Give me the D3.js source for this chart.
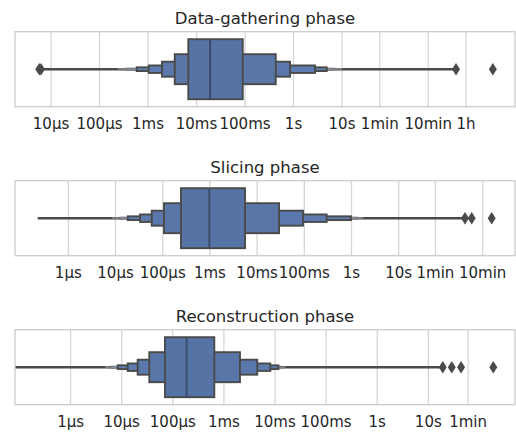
<!DOCTYPE html>
<html>
<head>
<meta charset="utf-8">
<script src="https://cdn.jsdelivr.net/npm/d3@7"></script>
<style>
  body { margin: 0; background: #fff; }
  text { font-family: "DejaVu Sans", sans-serif; fill: #262626; }
</style>
</head>
<body>
<svg id="chart" width="516" height="434"></svg>
<script>
// values are durations in seconds

var titles = ["Data-gathering phase", "Slicing phase", "Reconstruction phase"];

var domains = [
    [1.85e-6, 37760],
    [7.6e-8, 2985],
    [8.36e-8, 508]
];

var tickValues = [
    [1e-5, 1e-4, 1e-3, 1e-2, 1e-1, 1, 10, 60, 600, 3600],
    [1e-6, 1e-5, 1e-4, 1e-3, 1e-2, 1e-1, 1, 10, 60, 600],
    [1e-6, 1e-5, 1e-4, 1e-3, 1e-2, 1e-1, 1, 10, 60]
];
var tickLabels = [
    ["10µs", "100µs", "1ms", "10ms", "100ms", "1s", "10s", "1min", "10min", "1h"],
    ["1µs", "10µs", "100µs", "1ms", "10ms", "100ms", "1s", "10s", "1min", "10min"],
    ["1µs", "10µs", "100µs", "1ms", "10ms", "100ms", "1s", "10s", "1min"]
];

var medians = [0.0195, 0.000995, 0.000191];

// letter-value boxes, innermost first: [low, high]
var boxesGathering = [
    [0.00693, 0.0918], [0.00364, 0.440], [0.00199, 0.867], [0.00106, 2.84],
    [0.000598, 4.95], [0.000355, 7.08], [0.000251, 10]
];
var boxesSlicing = [
    [2.50e-4, 5.68e-3], [1.09e-4, 0.0299], [6.0e-5, 0.0962], [3.39e-5, 0.305],
    [1.86e-5, 1.0], [1.26e-5, 1.35], [8.9e-6, 1.78]
];
var boxesReconstruction = [
    [7.19e-5, 6.64e-4], [3.55e-5, 2.11e-3], [2.10e-5, 4.60e-3], [1.34e-5, 8.28e-3],
    [8.55e-6, 0.0119], [6.3e-6, 0.0135], [5.0e-6, 0.0158]
];
var allBoxes = [boxesGathering, boxesSlicing, boxesReconstruction];

// full extent of the thinnest boxes (drawn as a line)
var extents = [
    [6.08e-6, 2296],
    [2.3e-7, 260],
    [1e-8, 19.6]
];

var outliers = [
    [5.85e-6, 6.35e-6, 2296, 13183],
    [260, 361, 957],
    [19.6, 29.4, 44.7, 191]
];

var svg = d3.select("#chart");

const margin = { left: 15, right: 1 };
const width = 516;
const panelTop = 31.7, panelStep = 149, panelHeight = 75;
const Innerwidth = width - margin.left - margin.right;

var fillScale = d3.scaleLinear()
    .domain([0, 4, 6])
    .range(["#5573a4", "#5f7db1", "#aab7cc"]);

function Panel(i) {
    var top = panelTop + i * panelStep;
    var cy = top + panelHeight / 2;

    var xScale = d3.scaleLog()
        .domain(domains[i])
        .range([margin.left, margin.left + Innerwidth]);

    var g = svg.append("g");

    g.append("clipPath")
        .attr("id", "clip" + i)
        .append("rect")
        .attr("x", margin.left)
        .attr("y", top)
        .attr("width", Innerwidth)
        .attr("height", panelHeight);

    // x axis with gridlines
    var xAxis = g.append("g")
        .attr("transform", `translate(0,${top + panelHeight})`)
        .call(d3.axisBottom(xScale)
            .tickValues(tickValues[i])
            .tickFormat(function (d, j) { return tickLabels[i][j]; })
            .tickSize(-panelHeight)
            .tickPadding(12));
    xAxis.select(".domain").remove();
    xAxis.selectAll(".tick line")
        .attr("stroke", "#d6d6d6")
        .attr("stroke-width", 1.3);
    xAxis.selectAll(".tick text")
        .attr("fill", "#262626")
        .style("font-size", "15px")
        .style("font-family", "DejaVu Sans, sans-serif");

    // title
    g.append("text")
        .attr("x", margin.left + Innerwidth / 2)
        .attr("y", top - 8)
        .attr("text-anchor", "middle")
        .style("font-size", "16.5px")
        .text(titles[i]);

    var plot = g.append("g").attr("clip-path", `url(#clip${i})`);

    // thin tail line
    plot.append("line")
        .attr("x1", xScale(extents[i][0]))
        .attr("x2", xScale(extents[i][1]))
        .attr("y1", cy)
        .attr("y2", cy)
        .attr("stroke", "#4a4a4a")
        .attr("stroke-width", 2.6);

    // boxes, outermost drawn first
    var boxes = allBoxes[i].map(function (b, k) { return { lo: b[0], hi: b[1], k: k }; });
    plot.selectAll(".lv-box")
        .data(boxes.slice().reverse())
        .enter()
        .append("rect")
        .attr("class", "lv-box")
        .attr("x", function (d) { return xScale(d.lo); })
        .attr("width", function (d) { return xScale(d.hi) - xScale(d.lo); })
        .attr("y", function (d) { return cy - 0.4 * panelHeight * Math.pow(0.5, d.k); })
        .attr("height", function (d) { return 0.8 * panelHeight * Math.pow(0.5, d.k); })
        .attr("fill", function (d) { return fillScale(d.k); })
        .attr("stroke", function (d) { return d.k > 4 ? "#7d7d7d" : "#4a4a4a"; })
        .attr("stroke-width", function (d) { return d.k > 4 ? 1.2 : 1.9; });

    // median
    plot.append("line")
        .attr("x1", xScale(medians[i]))
        .attr("x2", xScale(medians[i]))
        .attr("y1", cy - 0.4 * panelHeight)
        .attr("y2", cy + 0.4 * panelHeight)
        .attr("stroke", "#3d4d6b")
        .attr("stroke-width", 2);

    // outliers as thin diamonds
    plot.selectAll(".outlier")
        .data(outliers[i])
        .enter()
        .append("path")
        .attr("class", "outlier")
        .attr("d", "M0,-6.3L4,0L0,6.3L-4,0Z")
        .attr("transform", function (d) { return `translate(${xScale(d)},${cy})`; })
        .attr("fill", "#4a4a4a");

    // frame
    g.append("rect")
        .attr("x", margin.left)
        .attr("y", top)
        .attr("width", Innerwidth)
        .attr("height", panelHeight)
        .attr("fill", "none")
        .attr("stroke", "#cccccc")
        .attr("stroke-width", 1.3);
}

for (var i = 0; i < 3; i++) {
    Panel(i);
}
</script>
</body>
</html>
